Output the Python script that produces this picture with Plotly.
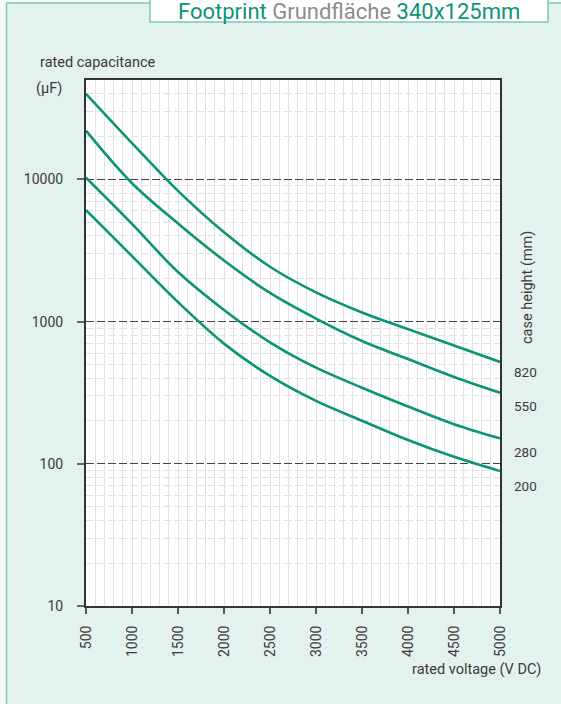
import plotly.graph_objects as go

# Rated voltage grid (V DC)
voltage = [500, 1000, 1500, 2000, 2500, 3000, 3500, 4000, 4500, 5000]

# Rated capacitance (µF) per case height
cap_820 = [40000, 18000, 8300, 4250, 2430, 1605, 1160, 885, 680, 520]
cap_550 = [22000, 9400, 4900, 2690, 1590, 1050, 730, 545, 408, 316]
cap_280 = [10300, 4870, 2230, 1208, 715, 474, 343, 253, 190, 151]
cap_200 = [6080, 2890, 1371, 700, 415, 277, 201, 147, 112, 89]

case_heights = ["820", "550", "280", "200"]
series = [cap_820, cap_550, cap_280, cap_200]

x_ticks = [500, 1000, 1500, 2000, 2500, 3000, 3500, 4000, 4500, 5000]
y_ticks = [10, 100, 1000, 10000]
y_tick_text = ["10", "100", "1000", "10000"]

W, H = 561, 704
L, R, T, B = 86, 61, 80, 98
PW, PH = W - L - R, H - T - B

FONT = "Roboto, Liberation Sans, sans-serif"
TEXT = "#3a3a3a"
TEAL = "#0b9475"
MINT_BG = "#e3f2ee"
MINT_LINE = "#7ccab2"


def px(xp):
    return (xp - L) / PW


def py(yp):
    return (H - B - yp) / PH


fig = go.Figure()
for name, vals in zip(case_heights, series):
    fig.add_trace(go.Scatter(
        x=voltage, y=vals, mode="lines", name=name,
        line=dict(color=TEAL, width=2.6, shape="spline", smoothing=1.0),
        hoverinfo="x+y", showlegend=False,
    ))

fig.update_xaxes(
    range=[500, 5000], tickvals=x_ticks, tickangle=-90,
    showline=True, mirror=True, linecolor="#333", linewidth=2,
    ticks="outside", ticklen=6, tickcolor="#555", tickwidth=1.5,
    ticklabelstandoff=6,
    showgrid=True, gridcolor="#e2e2e2", gridwidth=1,
    minor=dict(dtick=100, showgrid=True, gridcolor="#e2e2e2", gridwidth=1, ticks=""),
    tickfont=dict(family=FONT, size=14, color=TEXT),
    zeroline=False,
)
fig.update_yaxes(
    type="log", range=[1, 4.69897],
    tickvals=y_ticks, ticktext=y_tick_text,
    showline=True, mirror=True, linecolor="#333", linewidth=2,
    ticks="outside", ticklen=7, tickcolor="#666", tickwidth=1.5,
    ticklabelstandoff=11,
    showgrid=True, gridcolor="#444", gridwidth=1, griddash="8px,3px",
    minor=dict(dtick="D1", showgrid=True, gridcolor="#e2e2e2", gridwidth=1, ticks=""),
    tickfont=dict(family=FONT, size=14, color=TEXT),
    zeroline=False,
)

shapes = [
    # outer frame
    dict(type="rect", xref="paper", yref="paper", layer="below",
         x0=px(-5), x1=px(6), y0=py(H + 10), y1=py(-5),
         fillcolor="#f6fbf9", line=dict(width=0)),
    dict(type="rect", xref="paper", yref="paper", layer="below",
         x0=px(-5), x1=px(W + 10), y0=py(3), y1=py(-5),
         fillcolor="#f6fbf9", line=dict(width=0)),
    dict(type="line", xref="paper", yref="paper",
         x0=px(6.5), x1=px(6.5), y0=py(H + 10), y1=py(3),
         line=dict(color=MINT_LINE, width=1.5)),
    dict(type="line", xref="paper", yref="paper",
         x0=px(6.5), x1=px(W + 10), y0=py(3), y1=py(3),
         line=dict(color=MINT_LINE, width=1.5)),
    # title box
    dict(type="rect", xref="paper", yref="paper",
         x0=px(150), x1=px(548), y0=py(22), y1=py(-10),
         fillcolor="white", line=dict(color=MINT_LINE, width=1.5)),
]

annotations = [
    dict(text=f"<span style='color:{TEAL}'>Footprint</span> "
              f"<span style='color:#8c8c8c'>Grundfläche</span> "
              f"<span style='color:{TEAL}'>340x125mm</span>",
         x=px(349), y=py(-3), xref="paper", yref="paper",
         xanchor="center", yanchor="top", showarrow=False,
         font=dict(family=FONT, size=22)),
    dict(text="rated capacitance", x=px(38), y=py(63), xref="paper", yref="paper",
         xanchor="left", yanchor="middle", showarrow=False,
         font=dict(family=FONT, size=14.5, color=TEXT)),
    dict(text="(µF)", x=px(64), y=py(89), xref="paper", yref="paper",
         xanchor="right", yanchor="middle", showarrow=False,
         font=dict(family=FONT, size=14.5, color=TEXT)),
    dict(text="rated voltage (V DC)", x=px(543), y=py(669), xref="paper", yref="paper",
         xanchor="right", yanchor="middle", showarrow=False,
         font=dict(family=FONT, size=14.5, color=TEXT)),
    dict(text="case height (mm)", x=px(527), y=py(288), xref="paper", yref="paper",
         xanchor="center", yanchor="middle", textangle=-90, showarrow=False,
         font=dict(family=FONT, size=14.5, color=TEXT)),
]
for label, ypos in zip(case_heights, [372, 406, 452, 486]):
    annotations.append(dict(
        text=label, x=px(525), y=py(ypos), xref="paper", yref="paper",
        xanchor="center", yanchor="middle", showarrow=False,
        font=dict(family=FONT, size=13.5, color=TEXT)))

fig.update_layout(
    width=W, height=H,
    margin=dict(l=L, r=R, t=T, b=B, pad=0),
    paper_bgcolor=MINT_BG, plot_bgcolor="white",
    shapes=shapes, annotations=annotations,
    showlegend=False,
)

fig.write_html("out.html", config={"displayModeBar": False})
